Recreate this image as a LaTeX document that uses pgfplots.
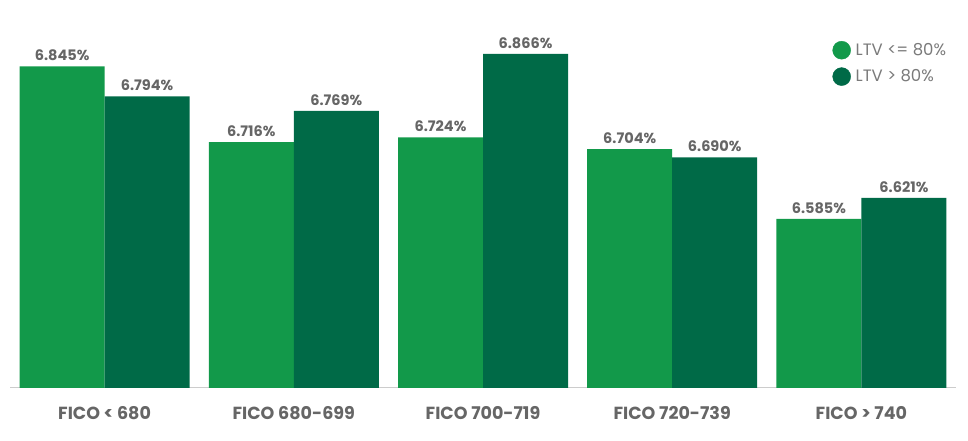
\documentclass[border=0pt]{standalone}
\usepackage{pgfplots}
\pgfplotsset{compat=1.18}
\usepackage{fontspec}
\setmainfont{Poppins}
\definecolor{lgreen}{HTML}{12994A}
\definecolor{dgreen}{HTML}{006A47}
\definecolor{txtgrey}{HTML}{666666}
\definecolor{leggrey}{HTML}{7A7A7A}
\definecolor{basegrey}{HTML}{CCCCCC}
\begin{document}
\begin{tikzpicture}[x=1pt,y=1pt]
\useasboundingbox (0,0) rectangle (968,441);
\begin{axis}[
  at={(10pt,53pt)}, anchor=south west,
  scale only axis, width=946pt, height=388pt,
  xmin=-0.5, xmax=4.5, ymin=6.297, ymax=6.958,
  ybar, bar width=85pt,
  axis x line=bottom, axis y line=none,
  axis line style={draw=basegrey, line width=1pt, -},
  xtick={0,1,2,3,4},
  xticklabels={FICO < 680, FICO 680-699, FICO 700-719, FICO 720-739, FICO > 740},
  major tick length=0pt,
  xticklabel style={font=\fontsize{17.5}{20}\selectfont\bfseries, text=txtgrey, yshift=-15pt},
  /pgf/number format/assume math mode=true,
  nodes near coords={\pgfmathprintnumber[fixed,precision=3,fixed zerofill]{\pgfplotspointmeta}\%},
  every node near coord/.append style={font=\fontsize{14.5}{17}\selectfont\bfseries, text=txtgrey, yshift=2pt},
  clip=false,
  legend style={at={(0.995,0.9)}, anchor=north east, draw=none, fill=none,
    font=\fontsize{16.5}{19}\selectfont, text=leggrey, row sep=8pt,
    /tikz/every odd column/.append style={column sep=0pt}},
  legend cell align=left,
]
\addplot[draw=none, fill=lgreen, bar shift=-42.5pt, forget plot] coordinates {(0,6.845) (1,6.716) (2,6.724) (3,6.704) (4,6.585)};
\addplot[draw=none, fill=dgreen, bar shift=42.5pt, forget plot] coordinates {(0,6.794) (1,6.769) (2,6.866) (3,6.690) (4,6.621)};
\addlegendimage{legend image code/.code={\fill[lgreen] (0pt,0pt) circle (9pt); \path[draw=none,fill=none] (0pt,0pt) -- (12pt,0pt);}}
\addlegendentry{LTV <= 80\%}
\addlegendimage{legend image code/.code={\fill[dgreen] (0pt,0pt) circle (9pt); \path[draw=none,fill=none] (0pt,0pt) -- (12pt,0pt);}}
\addlegendentry{LTV > 80\%}
\end{axis}
\end{tikzpicture}
\end{document}
